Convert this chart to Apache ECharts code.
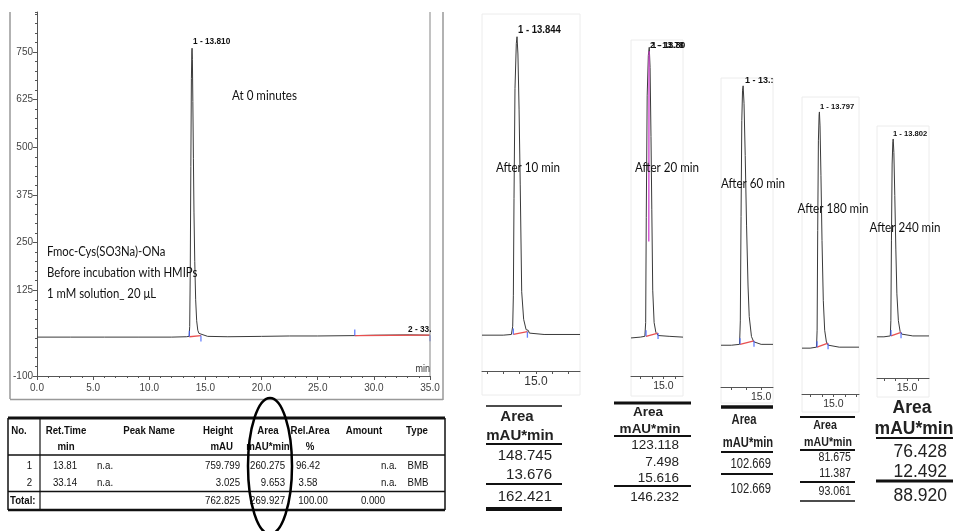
<!DOCTYPE html>
<html><head><meta charset="utf-8">
<script src="https://cdn.jsdelivr.net/npm/echarts@6/dist/echarts.min.js"></script>
<style>html,body{margin:0;padding:0;background:#fff}#c{width:953px;height:531px}</style>
</head><body><div id="c"></div>
<script>
// ---------- DATA ----------
const mainTime   = [0, 3, 6, 9, 12, 13.3, 13.55, 13.6, 13.65, 13.7, 13.75, 13.79, 13.81, 13.84, 13.88, 13.93, 13.98, 14.05, 14.13, 14.22, 14.32, 14.42, 14.5, 14.6, 14.75, 15.2, 17, 20, 22.5, 25, 28.3, 30, 33.14, 35];
const mainSignal = [2, 2, 2, 2, 2, 3, 4, 30, 180, 450, 680, 750, 760, 730, 620, 470, 330, 200, 100, 45, 20, 12, 13, 10, 6, 4, 3, 4, 5, 5, 6, 7, 8, 7];
const mainLimits = [[13.57, 14.6], [28.3, 35.0]];
const mainLimitSignal = [[3, 6], [6, 7]];
const mainPeakLabels = ['1 - 13.810', '2 - 33.'];
const mainYLabels = [-100, 125, 250, 375, 500, 625, 750];

const p1Time = [11.7, 13.0, 13.5, 13.58, 13.62, 13.66, 13.72, 13.8, 13.844, 13.9, 13.97, 14.04, 14.13, 14.25, 14.4, 14.53, 14.6, 15.5, 17.7];
const p1Signal = [2, 2, 3, 15, 60, 200, 360, 425, 435, 410, 330, 220, 65, 25, 10, 9, 5, 3, 3];
const p2Time = [12.2, 13.0, 13.4, 13.47, 13.52, 13.6, 13.7, 13.78, 13.85, 13.93, 14.0, 14.08, 14.2, 14.35, 14.45, 14.55, 15.5, 16.7];
const p2Signal = [1, 2, 3, 20, 150, 300, 350, 360, 335, 250, 160, 60, 20, 8, 7, 4, 3, 2];
const p2OverlayTime = [13.74, 13.75, 13.76, 13.77];
const p2OverlaySignal = [120, 230, 330, 355];
const p3Time = [12.3, 13.0, 13.55, 13.6, 13.65, 13.7, 13.75, 13.79, 13.85, 13.93, 14.02, 14.12, 14.2, 14.35, 14.5, 15.0, 15.8];
const p3Signal = [2, 2, 3, 30, 150, 260, 295, 300, 280, 220, 140, 70, 35, 12, 6, 3, 3];
const p4Time = [12.3, 13.0, 13.55, 13.6, 13.65, 13.71, 13.77, 13.797, 13.85, 13.93, 14.02, 14.13, 14.25, 14.4, 14.55, 15.5, 17.2];
const p4Signal = [2, 2, 3, 20, 120, 210, 236, 239, 225, 175, 110, 50, 20, 8, 5, 3, 3];
const p5Time = [12.4, 13.0, 13.55, 13.6, 13.65, 13.71, 13.77, 13.802, 13.86, 13.94, 14.03, 14.12, 14.25, 14.4, 14.55, 15.5, 16.9];
const p5Signal = [2, 2, 3, 20, 110, 195, 220, 223, 208, 160, 100, 50, 20, 8, 5, 3, 3];

const panelTimes = [p1Time, p2Time, p3Time, p4Time, p5Time];
const panelSignals = [p1Signal, p2Signal, p3Signal, p4Signal, p5Signal];
const panelLimits = [[13.62, 14.48], [13.5, 14.54], [13.58, 14.52], [13.59, 14.54], [13.61, 14.48]];
const panelNames = ['After 10 min', 'After 20 min', 'After 60 min', 'After 180 min', 'After 240 min'];
const panelPeakLabels = [['1 - 13.844'], ['2 - 13.78', '1 - 13.80'], ['1 - 13.:'], ['1 - 13.797'], ['1 - 13.802']];
const panelAreas = [['148.745', '13.676'], ['123.118', '7.498', '15.616'], ['102.669'], ['81.675', '11.387'], ['76.428', '12.492']];
const panelTotals = ['162.421', '146.232', '102.669', '93.061', '88.920'];
const panelTickLabel = '15.0';

const tableHeader1 = ['No.', 'Ret.Time', 'Peak Name', 'Height', 'Area', 'Rel.Area', 'Amount', 'Type'];
const tableHeader2 = ['', 'min', '', 'mAU', 'mAU*min', '%', '', ''];
const peakNo = ['1', '2'];
const retTime = ['13.81', '33.14'];
const peakName = ['n.a.', 'n.a.'];
const peakHeight = ['759.799', '3.025'];
const peakArea = ['260.275', '9.653'];
const relArea = ['96.42', '3.58'];
const amount = ['n.a.', 'n.a.'];
const peakType = ['BMB', 'BMB'];
const totals = ['Total:', '762.825', '269.927', '100.00', '0.000'];

const annotation0 = 'At 0 minutes';
const sampleNotes = ['Fmoc-Cys(SO3Na)-ONa', 'Before incubation with HMIPs', '1 mM solution_ 20 \u03bcL'];

// ---------- LAYOUT ----------
const AR = '"Liberation Sans", Arial, sans-serif';
const CAL = 'Lato, "Open Sans", sans-serif';
const zip = (a, b) => a.map((v, i) => [v, b[i]]);

const panelGrids = [
  {left: 482, top: 14, width: 98, height: 357, xmin: 11.7, xmax: 17.7, ymin: -50, ymax: 468},
  {left: 631, top: 40, width: 52, height: 336, xmin: 12.2, xmax: 16.7, ymin: -46, ymax: 369},
  {left: 721, top: 78, width: 52, height: 309, xmin: 12.3, xmax: 15.8, ymin: -46, ymax: 309},
  {left: 802, top: 97, width: 57, height: 297, xmin: 12.3, xmax: 17.2, ymin: -44, ymax: 254},
  {left: 877, top: 126, width: 52, height: 252, xmin: 12.4, xmax: 16.9, ymin: -44, ymax: 237.5}
];
const panelFrameBottom = [395, 396, 403, 412, 397];

const grids = [{left: 37, top: 12, width: 393, height: 364}];
panelGrids.forEach(g => grids.push({left: g.left, top: g.top, width: g.width, height: g.height}));

const xAxes = [{
  gridIndex: 0, type: 'value', min: 0, max: 35, interval: 5,
  axisLine: {onZero: false, lineStyle: {color: '#555', width: 1}},
  axisTick: {length: 4, lineStyle: {color: '#555'}},
  minorTick: {show: true, splitNumber: 5, length: 2, lineStyle: {color: '#555'}},
  splitLine: {show: false},
  axisLabel: {formatter: v => v.toFixed(1), fontFamily: AR, fontSize: 10, color: '#444', margin: 7}
}];
const yAxes = [{
  gridIndex: 0, type: 'value', position: 'left', min: -100, max: 855, interval: 25,
  axisLine: {show: true, onZero: false, lineStyle: {color: '#555', width: 1}},
  axisTick: {show: true, length: 2, lineStyle: {color: '#555'}},
  axisLabel: {show: false}, splitLine: {show: false}
}, {
  gridIndex: 0, type: 'value', position: 'left', offset: 0, min: -100, max: 855,
  axisLine: {show: false, onZero: false},
  axisTick: {show: true, length: 4, customValues: mainYLabels, lineStyle: {color: '#555'}},
  axisLabel: {show: true, customValues: mainYLabels, fontFamily: AR, fontSize: 10, color: '#444', margin: 4},
  splitLine: {show: false}
}];
panelGrids.forEach((g, i) => {
  const ticks = [];
  for (let t = Math.ceil(g.xmin); t <= g.xmax; t++) ticks.push(t);
  xAxes.push({
    gridIndex: i + 1, type: 'value', min: g.xmin, max: g.xmax,
    axisLine: {onZero: false, lineStyle: {color: '#555', width: 1}},
    axisTick: {length: 3, customValues: ticks, lineStyle: {color: '#555'}},
    axisLabel: {customValues: [15], formatter: () => panelTickLabel, fontFamily: AR, fontSize: i === 0 ? 12 : 10.5, color: '#333', margin: 5},
    splitLine: {show: false}
  });
  yAxes.push({gridIndex: i + 1, type: 'value', min: g.ymin, max: g.ymax, show: false, splitLine: {show: false}});
});

const series = [];
const lineS = (xi, yi, data, color, w, z) => ({
  type: 'line', xAxisIndex: xi, yAxisIndex: yi, data, showSymbol: false, symbol: 'none',
  lineStyle: {color, width: w}, silent: true, animation: false, z: z || 2
});
const tickS = (xi, yi, limits, sig) => ({
  type: 'scatter', xAxisIndex: xi, yAxisIndex: yi, symbol: 'rect', symbolSize: [1.3, 6],
  itemStyle: {color: '#4060ff'}, silent: true, animation: false, z: 4,
  data: [{value: [limits[0], sig[0]], symbolOffset: [0, -3]}, {value: [limits[1], sig[1]], symbolOffset: [0, 3]}]
});
series.push(lineS(0, 0, zip(mainTime, mainSignal), '#3a3a3a', 1));
mainLimits.forEach((lim, k) => {
  series.push(lineS(0, 0, [[lim[0], mainLimitSignal[k][0]], [lim[1], mainLimitSignal[k][1]]], '#e85050', 1.3, 3));
  series.push(tickS(0, 0, lim, mainLimitSignal[k]));
});
panelGrids.forEach((g, i) => {
  const yi = i + 2, xi = i + 1;
  series.push(lineS(xi, yi, zip(panelTimes[i], panelSignals[i]), '#3a3a3a', 1));
  const lim = panelLimits[i];
  series.push(lineS(xi, yi, [[lim[0], 3], [lim[1], 7]], '#e85050', 1.3, 3));
  series.push(tickS(xi, yi, lim, [3, 7]));
});
series.push(lineS(2, 3, zip(p2OverlayTime, p2OverlaySignal), '#d040d0', 1.3, 5));

// ---------- GRAPHIC ----------
const G = [];
const T = (text, x, y, font, align, fill, sx) => G.push({type: 'text', silent: true, z: 10,
  x, y, scaleX: sx || 1,
  style: {text, x: 0, y: 0, font, fill: fill || '#111', textAlign: align || 'left', textVerticalAlign: 'middle'}});
const L = (x1, y1, x2, y2, w, c) => G.push({type: 'line', silent: true, z: 10,
  shape: {x1, y1, x2, y2}, style: {stroke: c || '#111', lineWidth: w}});

// main frame
L(10, 12, 10, 399, 1.5, '#999');
L(443, 12, 443, 400, 1.5, '#999');
L(10, 399.5, 443, 399.5, 1.5, '#999');
L(430, 12, 430, 376, 1.2, '#999');
T(mainPeakLabels[0], 193, 42, 'bold 9px ' + AR, 'left', '#111', 0.92);
T(mainPeakLabels[1], 408, 330, 'bold 9px ' + AR, 'left', '#111', 0.92);
T('min', 430, 369, '10px ' + AR, 'right', '#333', 0.9);
T(annotation0, 232, 96, '13.5px ' + CAL, 'left', '#111', 0.86);
sampleNotes.forEach((s, k) => T(s, 47, 252 + k * 21, '13.5px ' + CAL, 'left', '#111', 0.84));

// main table
L(8, 418, 445, 418, 3);
L(8, 418, 8, 510, 1.5);
L(445, 418, 445, 510, 1.5);
L(40, 418, 40, 510, 1.2);
L(8, 455, 445, 455, 1.5);
L(8, 491.5, 445, 491.5, 1.5);
L(8, 510, 445, 510, 2.5);
const hx = [19, 66, 149, 218, 268, 310, 364, 417];
const HB = 'bold 10.5px ' + AR, NR = '10.5px ' + AR;
tableHeader1.forEach((h, k) => T(h, hx[k], 431, HB, 'center', '#111', 0.92));
tableHeader2.forEach((h, k) => { if (h) T(h, k === 3 ? 233 : hx[k], 447, HB, k === 3 ? 'right' : 'center', '#111', 0.92); });
[466, 483].forEach((y, r) => {
  T(peakNo[r], 32, y, NR, 'right', '#111', 0.92);
  T(retTime[r], 65, y, NR, 'center', '#111', 0.92);
  T(peakName[r], 97, y, NR, 'left', '#111', 0.92);
  T(peakHeight[r], 240, y, NR, 'right', '#111', 0.92);
  T(peakArea[r], 285, y, NR, 'right', '#111', 0.92);
  T(relArea[r], 308, y, NR, 'center', '#111', 0.92);
  T(amount[r], 397, y, NR, 'right', '#111', 0.92);
  T(peakType[r], 418, y, NR, 'center', '#111', 0.92);
});
T(totals[0], 10, 501, HB, 'left', '#111', 0.92);
T(totals[1], 240, 501, NR, 'right', '#111', 0.92);
T(totals[2], 285, 501, NR, 'right', '#111', 0.92);
T(totals[3], 313, 501, NR, 'center', '#111', 0.92);
T(totals[4], 373, 501, NR, 'center', '#111', 0.92);
G.push({type: 'ellipse', silent: true, z: 11, shape: {cx: 270, cy: 466, rx: 22, ry: 68},
  style: {fill: 'none', stroke: '#000', lineWidth: 2.5}});

// panels: frames, labels
panelGrids.forEach((g, i) => {
  G.push({type: 'rect', silent: true, z: 0, shape: {x: g.left, y: g.top, width: g.width, height: panelFrameBottom[i] - g.top},
    style: {fill: 'none', stroke: '#ececec', lineWidth: 1}});
});
const peakLabPos = [[518, 30, 'bold 10px '], [650, 46, 'bold 9px '], [745, 80, 'bold 9.5px '], [820, 107, 'bold 8px '], [893, 134, 'bold 8px ']];
panelPeakLabels.forEach((labs, i) => labs.forEach((s, k) =>
  T(s, peakLabPos[i][0] + k * 1.5, peakLabPos[i][1] - k * 0.5, peakLabPos[i][2] + AR, 'left', '#111', 0.95)));
const namePos = [[528, 168], [667, 168], [753, 184], [833, 209], [905, 228]];
panelNames.forEach((s, i) => T(s, namePos[i][0], namePos[i][1], '13.5px ' + CAL, 'center', '#111', 0.86));

// panel area tables
const tbl = [
  {x1: 486, x2: 562, top: 406, topW: 1.5, area: [517, 417], unit: [520, 436], hl: 444, rows: [456, 475], sep: 484, tot: 497, bot: 509, botW: 4, nx: 552, font: 15, sx: 1},
  {x1: 614, x2: 691, top: 403, topW: 3, area: [648, 412], unit: [650, 429], hl: 436, rows: [445, 462, 478], sep: 486, tot: 497, bot: null, nx: 679, font: 13.5, sx: 1},
  {x1: 721, x2: 773, top: 407, topW: 3.5, area: [744, 420], unit: [748, 443], hl: 452, rows: [464], sep: 474, tot: 489, bot: null, nx: 771, font: 14, sx: 0.8},
  {x1: 800, x2: 855, top: 417, topW: 2, area: [825, 426], unit: [828, 443], hl: 450, rows: [458, 474], sep: 482, tot: 492, bot: 501, botW: 1.5, nx: 851, font: 12.5, sx: 0.85},
  {x1: 876, x2: 953, top: null, area: [912, 408], unit: [914, 429], hl: 438, rows: [452, 472], sep: 481, tot: 496, bot: null, nx: 947, font: 17.5, sx: 1}
];
tbl.forEach((t, i) => {
  if (t.top) L(t.x1, t.top, t.x2, t.top, t.topW);
  T('Area', t.area[0], t.area[1], 'bold ' + t.font + 'px ' + AR, 'center', '#222', t.sx);
  T('mAU*min', t.unit[0], t.unit[1], 'bold ' + t.font + 'px ' + AR, 'center', '#222', t.sx);
  L(t.x1, t.hl, t.x2, t.hl, 2);
  panelAreas[i].forEach((v, k) => T(v, t.nx, t.rows[k], t.font + 'px ' + AR, 'right', '#222', t.sx));
  L(t.x1, t.sep, t.x2, t.sep, i === 4 ? 3 : 2);
  T(panelTotals[i], t.nx, t.tot, t.font + 'px ' + AR, 'right', '#222', t.sx);
  if (t.bot) L(t.x1, t.bot, t.x2, t.bot, t.botW);
});

const chart = echarts.init(document.getElementById('c'), null, {renderer: 'canvas'});
chart.setOption({
  animation: false,
  backgroundColor: '#fff',
  grid: grids, xAxis: xAxes, yAxis: yAxes, series, graphic: G
});
</script></body></html>
